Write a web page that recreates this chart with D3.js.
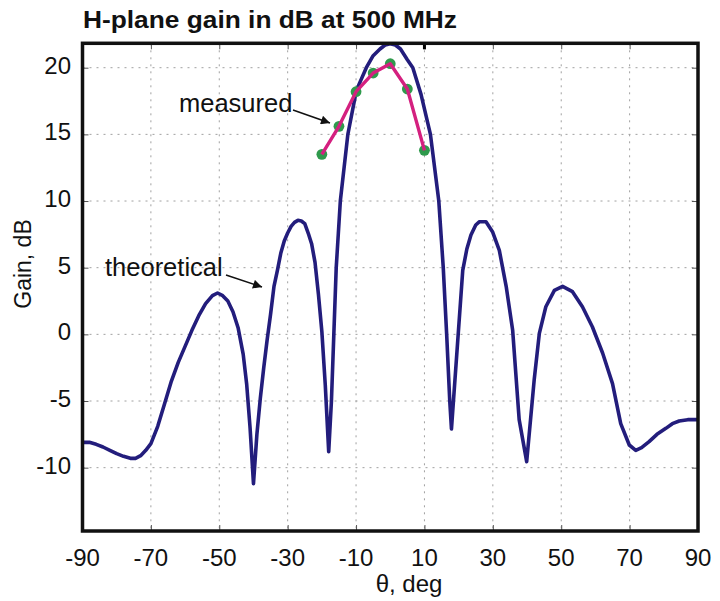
<!DOCTYPE html>
<html>
<head>
<meta charset="utf-8">
<script src="https://cdn.jsdelivr.net/npm/d3@7"></script>
<style>
  html, body { margin: 0; padding: 0; background: #fff; }
  svg { display: block; }
  text { font-family: "Liberation Sans", Arial, Helvetica, sans-serif; fill: #111; }
</style>
</head>
<body>
<svg id="chart" width="720" height="601"></svg>
<script>
// H-plane gain pattern, theoretical curve (angle in degrees, gain in dB)
const thetaTheory = [-90, -88, -86, -84, -82, -80, -78, -76, -74.5, -73, -71.5, -70, -68, -66, -64, -62, -60, -58, -56, -54, -52, -50.5, -49, -47.5, -46, -44.5, -43, -42, -41, -40, -39, -38, -37, -36, -35, -34, -33, -32, -31, -30, -29, -28, -27, -26, -25, -24, -23, -22, -21, -20, -19, -18, -17.2, -16.5, -15.8, -14.6, -12.4, -9.9, -7, -5, -3, -1.5, 0, 1.5, 3, 5, 6.6, 9, 11.75, 14.2, 15.5, 16.5, 17.4, 17.9, 21.2, 22.4, 23.6, 25, 26.1, 28, 29.9, 31.9, 33.9, 35.8, 37.7, 39.9, 42.1, 43.6, 45.5, 48, 50.4, 53.3, 56.2, 59.1, 62.1, 65, 67.4, 69.9, 71.8, 73.5, 75.7, 78, 80.6, 82.5, 84.5, 87, 90];
const gainTheory = [-8.1, -8.1, -8.25, -8.45, -8.7, -8.95, -9.15, -9.3, -9.3, -9.1, -8.7, -8.2, -6.9, -5.2, -3.5, -2.1, -0.9, 0.3, 1.4, 2.3, 2.9, 3.1, 2.9, 2.5, 1.7, 0.5, -1.5, -3.7, -7.0, -11.2, -7.5, -4.8, -2.5, -0.4, 1.5, 3.6, 4.8, 6.1, 7.0, 7.6, 8.1, 8.4, 8.55, 8.5, 8.3, 7.6, 6.8, 5.4, 3.0, 0.2, -3.8, -8.8, -5, 0, 5, 10, 15, 18.3, 20, 20.9, 21.4, 21.7, 21.8, 21.7, 21.4, 20.6, 20, 18, 15, 10, 5, 0, -5, -7.1, 4.8, 6.4, 7.45, 8.2, 8.45, 8.45, 7.7, 6.3, 3.6, 0.3, -6.4, -9.55, -3.4, 0.07, 2.07, 3.3, 3.6, 3.2, 2.07, 0.57, -1.4, -3.7, -6.7, -8.3, -8.7, -8.5, -8.05, -7.5, -7.05, -6.7, -6.5, -6.4, -6.4];

// Measured points
const thetaMeasured = [-20, -15, -10, -5, 0, 5, 10];
const gainMeasured = [13.5, 15.6, 18.2, 19.6, 20.3, 18.4, 13.8];

// Axis ticks
const xTicks = [-90, -70, -50, -30, -10, 10, 30, 50, 70, 90];
const yTicks = [-10, -5, 0, 5, 10, 15, 20];

const titleText = "H-plane gain in dB at 500 MHz";
const xLabel = "θ, deg";
const yLabel = "Gain, dB";
const theoryLabel = "theoretical";
const measuredLabel = "measured";

const svg = d3.select("#chart");
const plot = { left: 82.5, right: 698, top: 43.3, bottom: 531 };

const x = d3.scaleLinear().domain([-90, 90]).range([plot.left, plot.right]);
const y = d3.scaleLinear().domain([-14.75, 21.83]).range([plot.bottom, plot.top]);

svg.append("rect").attr("width", 720).attr("height", 601).attr("fill", "#fff");

// clip region for the data
svg.append("defs").append("clipPath").attr("id", "plotClip")
  .append("rect")
  .attr("x", plot.left).attr("y", plot.top)
  .attr("width", plot.right - plot.left).attr("height", plot.bottom - plot.top);

// dotted grid
const grid = svg.append("g").attr("stroke", "#a0a0a0").attr("stroke-width", 1)
  .attr("stroke-dasharray", "2,5");
grid.selectAll("line.v").data(xTicks.slice(1, -1)).join("line")
  .attr("x1", d => x(d)).attr("x2", d => x(d))
  .attr("y1", plot.top).attr("y2", plot.bottom);
grid.selectAll("line.h").data(yTicks).join("line")
  .attr("x1", plot.left).attr("x2", plot.right)
  .attr("y1", d => y(d)).attr("y2", d => y(d));

// inner tick marks via d3 axes
const tickLen = 6;
const axisB = d3.axisTop(x).tickValues(xTicks.slice(1, -1)).tickSize(tickLen).tickFormat("");
const axisT = d3.axisBottom(x).tickValues(xTicks.slice(1, -1)).tickSize(tickLen).tickFormat("");
const axisL = d3.axisRight(y).tickValues(yTicks).tickSize(tickLen).tickFormat("");
const axisR = d3.axisLeft(y).tickValues(yTicks).tickSize(tickLen).tickFormat("");
[[axisB, `translate(0,${plot.bottom})`], [axisT, `translate(0,${plot.top})`],
 [axisL, `translate(${plot.left},0)`], [axisR, `translate(${plot.right},0)`]].forEach(([ax, tr]) => {
  const g = svg.append("g").attr("transform", tr).call(ax);
  g.select(".domain").remove();
  g.selectAll(".tick line").attr("stroke", "#555").attr("stroke-width", 1);
});
// heavier tick on the top edge at θ = 10
svg.append("line")
  .attr("x1", x(10)).attr("x2", x(10))
  .attr("y1", plot.top).attr("y2", plot.top + 6)
  .attr("stroke", "#000").attr("stroke-width", 3);

// tick labels
svg.append("g").selectAll("text").data(xTicks).join("text")
  .attr("x", d => x(d)).attr("y", 566)
  .attr("text-anchor", "middle").attr("font-size", 24)
  .text(d => d);
svg.append("g").selectAll("text").data(yTicks).join("text")
  .attr("x", 71).attr("y", d => y(d) + 6)
  .attr("text-anchor", "end").attr("font-size", 24)
  .text(d => d);

// axis titles
svg.append("text").attr("x", 409).attr("y", 592)
  .attr("text-anchor", "middle").attr("font-size", 24).text(xLabel);
svg.append("text")
  .attr("transform", "translate(31,264) rotate(-90)")
  .attr("text-anchor", "middle").attr("font-size", 23).text(yLabel);

// chart title
svg.append("text").attr("x", 83).attr("y", 28)
  .attr("font-size", 23).attr("font-weight", "bold")
  .attr("textLength", 374).attr("lengthAdjust", "spacingAndGlyphs")
  .text(titleText);

// data layer
const dataLayer = svg.append("g").attr("clip-path", "url(#plotClip)");

const theory = thetaTheory.map((t, i) => [t, gainTheory[i]]);
const measured = thetaMeasured.map((t, i) => [t, gainMeasured[i]]);
const line = d3.line().x(d => x(d[0])).y(d => y(d[1])).curve(d3.curveLinear);

dataLayer.append("path").datum(theory)
  .attr("d", line).attr("fill", "none")
  .attr("stroke", "#231d7c").attr("stroke-width", 3.6)
  .attr("stroke-linejoin", "round");

dataLayer.selectAll("circle").data(measured).join("circle")
  .attr("cx", d => x(d[0])).attr("cy", d => y(d[1])).attr("r", 5.4)
  .attr("fill", "#2f9a4c");

dataLayer.append("path").datum(measured)
  .attr("d", line).attr("fill", "none")
  .attr("stroke", "#d4207f").attr("stroke-width", 3.4)
  .attr("stroke-linejoin", "round");

// annotations with arrows
const defs = svg.select("defs");
defs.append("marker").attr("id", "arrowHead")
  .attr("viewBox", "0 0 10 10").attr("refX", 10).attr("refY", 5)
  .attr("markerWidth", 12).attr("markerHeight", 9).attr("markerUnits", "userSpaceOnUse")
  .attr("orient", "auto")
  .append("path").attr("d", "M0,0 L10,5 L0,10 Z").attr("fill", "#111");

svg.append("text").attr("x", 105).attr("y", 276).attr("font-size", 25.5).text(theoryLabel);
svg.append("line").attr("x1", 226).attr("y1", 275).attr("x2", 262).attr("y2", 287)
  .attr("stroke", "#111").attr("stroke-width", 1.6).attr("marker-end", "url(#arrowHead)");

svg.append("text").attr("x", 179).attr("y", 111.5).attr("font-size", 25.5).text(measuredLabel);
svg.append("line").attr("x1", 293).attr("y1", 110).attr("x2", 330).attr("y2", 123)
  .attr("stroke", "#111").attr("stroke-width", 1.6).attr("marker-end", "url(#arrowHead)");

// frame
svg.append("rect")
  .attr("x", plot.left).attr("y", plot.top)
  .attr("width", plot.right - plot.left).attr("height", plot.bottom - plot.top)
  .attr("fill", "none").attr("stroke", "#111").attr("stroke-width", 3.5);
</script>
</body>
</html>
